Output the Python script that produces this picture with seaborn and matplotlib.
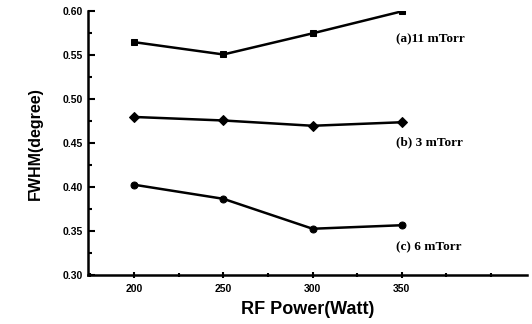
import pandas as pd
import matplotlib
matplotlib.use("Agg")
import matplotlib.pyplot as plt
import seaborn as sns
from matplotlib.ticker import MultipleLocator, FormatStrFormatter

# data
rf_power = [200, 250, 300, 350]
fwhm_11mtorr = [0.565, 0.551, 0.575, 0.600]
fwhm_3mtorr = [0.480, 0.476, 0.470, 0.474]
fwhm_6mtorr = [0.403, 0.387, 0.353, 0.357]
series_names = ["(a)11 mTorr", "(b) 3 mTorr", "(c) 6 mTorr"]

rows = []
for name, vals in zip(series_names, [fwhm_11mtorr, fwhm_3mtorr, fwhm_6mtorr]):
    for p, v in zip(rf_power, vals):
        rows.append({"RF": p, "FWHM": v, "Series": name})
df = pd.DataFrame(rows)

sns.set_style("ticks")
plt.rcParams["font.family"] = ["Liberation Sans", "DejaVu Sans"]
plt.rcParams["text.color"] = "black"
plt.rcParams["axes.labelcolor"] = "black"
plt.rcParams["xtick.color"] = "black"
plt.rcParams["ytick.color"] = "black"
plt.rcParams["axes.edgecolor"] = "black"

fig, ax = plt.subplots(figsize=(5.32, 3.24), dpi=100)
sns.lineplot(data=df, x="RF", y="FWHM", style="Series", markers=["s", "D", "o"],
             dashes=False, color="black", linewidth=1.8, markersize=5,
             markeredgecolor="black", legend=False, ax=ax)

ax.set_xlim(174, 420)
ax.set_ylim(0.30, 0.60)
ax.set_xticks(rf_power)
ax.xaxis.set_minor_locator(MultipleLocator(25))
ax.yaxis.set_major_locator(MultipleLocator(0.05))
ax.yaxis.set_minor_locator(MultipleLocator(0.025))
ax.yaxis.set_major_formatter(FormatStrFormatter("%.2f"))
ax.tick_params(axis="y", which="both", direction="in", labelsize=7.5, width=1.5)
ax.tick_params(axis="x", which="both", direction="inout", labelsize=7.5, width=1.5)
ax.tick_params(which="major", length=5)
ax.tick_params(which="minor", length=3)
for lab in ax.get_xticklabels() + ax.get_yticklabels():
    lab.set_fontweight("bold")
for s in ["left", "bottom"]:
    ax.spines[s].set_linewidth(1.8)
sns.despine(ax=ax)

ax.set_xlabel("RF Power(Watt)", fontsize=13, fontweight="bold", labelpad=5)
ax.set_ylabel("FWHM(degree)", fontsize=11.5, fontweight="bold", labelpad=14)

serif = dict(family=["Liberation Serif", "DejaVu Serif"], fontsize=9.5, fontweight="bold")
ax.text(347, 0.568, series_names[0], **serif, va="center")
ax.text(347, 0.451, series_names[1], **serif, va="center")
ax.text(347, 0.332, series_names[2], **serif, va="center")

fig.subplots_adjust(left=0.165, right=0.99, bottom=0.15, top=0.965)
fig.savefig("out.png", dpi=100)
